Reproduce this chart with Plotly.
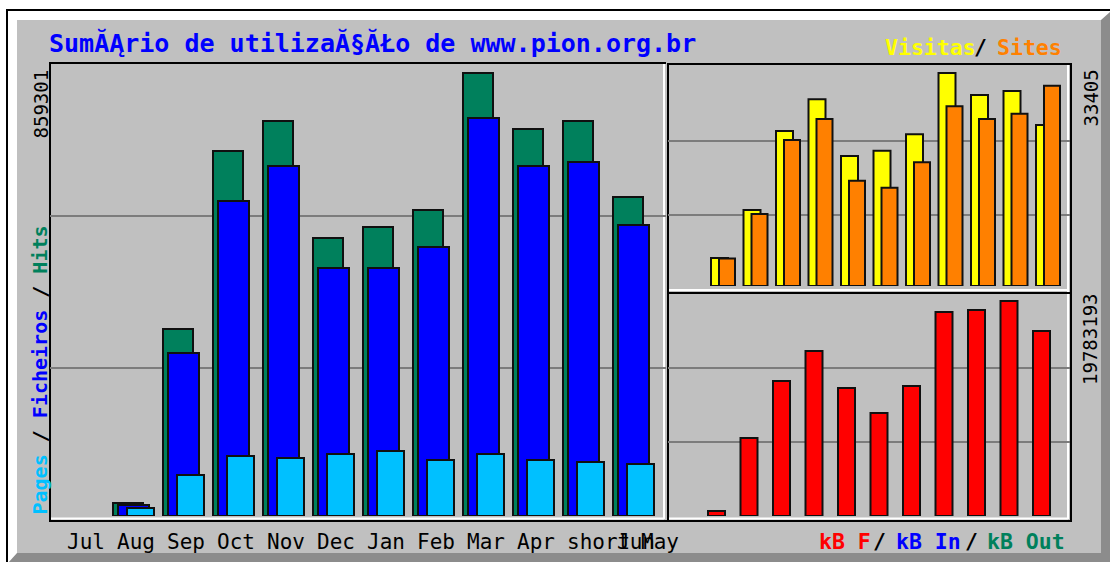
import plotly.graph_objects as go

W, H = 1110, 562

# ---------------- data ----------------
months = ["Jul", "Aug", "Sep", "Oct", "Nov", "Dec", "Jan", "Feb", "Mar", "Apr", "short", "Jun"]
extra_label = "May"
hits = [None, 25200, 362700, 708000, 766200, 539200, 560600, 593600, 859301, 750700, 766200, 618800]
files = [None, 21300, 316200, 611000, 678900, 481000, 481000, 521800, 772000, 678900, 686700, 564500]
pages = [None, 15500, 79500, 116400, 112500, 120300, 126100, 108600, 120300, 108600, 104700, 100900]
visits = [None, 4390, 11900, 24300, 29300, 20400, 21200, 23800, 33405, 29950, 30600, 25250]
sites = [None, 4300, 11290, 22900, 26200, 16500, 15400, 19400, 28200, 26200, 27000, 31400]
kbytes = [None, 460000, 7177000, 12422000, 15183000, 11778000, 9478000, 11962000,
          18771000, 18955000, 19783193, 17023000]
max_hits = 859301
max_visits = 33405
max_kbytes = 19783193
title = "Sum\u0102\u0104rio de utiliza\u0102\u00a7\u0102\u0141o de www.pion.org.br"

# ---------------- colours ----------------
BG = "#C0C0C0"
C_HITS = "#00805C"
C_FILES = "#0000FF"
C_PAGES = "#00C0FF"
C_VISITS = "#FFFF00"
C_SITES = "#FF8000"
C_KB = "#FF0000"
GRID = "#7c7c7c"
MONO = "DejaVu Sans Mono"

slots = list(range(len(months)))


def X(px):
    return px / W


def Y(py):
    return 1 - py / H


fig = go.Figure()

# ---- left panel: hits / files / pages ----
L0, L1 = 50, 666
SL0, SLW = 63, 50  # first slot pixel, slot spacing
line = dict(color="#101010", width=2)
fig.add_trace(go.Bar(x=slots, y=hits, marker=dict(color=C_HITS, line=line),
                     offset=0, width=30 / SLW, xaxis="x", yaxis="y", name="Hits"))
fig.add_trace(go.Bar(x=slots, y=files, marker=dict(color=C_FILES, line=line),
                     offset=5 / SLW, width=31 / SLW, xaxis="x", yaxis="y", name="Ficheiros"))
fig.add_trace(go.Bar(x=slots, y=pages, marker=dict(color=C_PAGES, line=line),
                     offset=14 / SLW, width=27 / SLW, xaxis="x", yaxis="y", name="Pages"))

# ---- right top: visits / sites ----
R0, R1 = 668, 1070
SR0, SRW = 678.5, 32.5
fig.add_trace(go.Bar(x=slots, y=visits, marker=dict(color=C_VISITS, line=line),
                     offset=0, width=17 / SRW, xaxis="x2", yaxis="y2", name="Visitas"))
fig.add_trace(go.Bar(x=slots, y=sites, marker=dict(color=C_SITES, line=line),
                     offset=8 / SRW, width=16 / SRW, xaxis="x2", yaxis="y2", name="Sites"))

# ---- right bottom: kB F ----
fig.add_trace(go.Bar(x=slots, y=kbytes, marker=dict(color=C_KB, line=line),
                     offset=-3 / SRW, width=17 / SRW, xaxis="x3", yaxis="y3", name="kB F"))

s1 = max_hits / (516 - 73)
s2 = max_visits / (286 - 73)
s3 = max_kbytes / (516 - 301)

ax_common = dict(showticklabels=False, ticks="", zeroline=False, showline=False, fixedrange=True)
fig.update_layout(
    width=W, height=H,
    margin=dict(l=0, r=0, t=0, b=0),
    paper_bgcolor="white",
    plot_bgcolor="rgba(0,0,0,0)",
    barmode="overlay",
    showlegend=False,
    xaxis=dict(domain=[X(L0), X(L1)], range=[(L0 - SL0) / SLW, (L1 - SL0) / SLW],
               showgrid=False, anchor="y", **ax_common),
    yaxis=dict(domain=[Y(516), Y(63)], range=[0, s1 * (516 - 63)], anchor="x",
               tickvals=[s1 * (516 - 368), s1 * (516 - 216)],
               showgrid=True, gridcolor=GRID, gridwidth=2, **ax_common),
    xaxis2=dict(domain=[X(R0), X(R1)], range=[(R0 - SR0) / SRW, (R1 - SR0) / SRW],
                showgrid=False, anchor="y2", **ax_common),
    yaxis2=dict(domain=[Y(286), Y(64)], range=[0, s2 * (286 - 64)], anchor="x2",
                tickvals=[s2 * (286 - 215), s2 * (286 - 141)],
                showgrid=True, gridcolor=GRID, gridwidth=2, **ax_common),
    xaxis3=dict(domain=[X(R0), X(R1)], range=[(R0 - SR0) / SRW, (R1 - SR0) / SRW],
                showgrid=False, anchor="y3", **ax_common),
    yaxis3=dict(domain=[Y(516), Y(293)], range=[0, s3 * (516 - 293)], anchor="x3",
                tickvals=[s3 * (516 - 442), s3 * (516 - 368)],
                showgrid=True, gridcolor=GRID, gridwidth=2, **ax_common),
)

shapes = []
# outer frame, bevel and body
shapes.append(dict(type="rect", xref="paper", yref="paper", x0=X(7), y0=Y(10), x1=X(1116), y1=Y(570),
                   line=dict(color="black", width=2), fillcolor="white", layer="below"))
shapes.append(dict(type="path", xref="paper", yref="paper",
                   path=f"M {X(1111)} {Y(11)} L {X(1111)} {Y(563)} L {X(8)} {Y(563)} L {X(17)} {Y(553)} "
                        f"L {X(1101)} {Y(553)} L {X(1101)} {Y(20)} Z",
                   fillcolor="#8c8c8c", line=dict(width=0), layer="below"))
shapes.append(dict(type="rect", xref="paper", yref="paper", x0=X(17), y0=Y(20), x1=X(1101), y1=Y(553),
                   fillcolor=BG, line=dict(width=0), layer="below"))


def seg(x0, y0, x1, y1, color, w=2):
    shapes.append(dict(type="line", xref="paper", yref="paper", x0=X(x0), y0=Y(y0), x1=X(x1), y1=Y(y1),
                       line=dict(color=color, width=w), layer="below"))


# white highlights
seg(664, 64, 664, 519, "white")
seg(51, 518.5, 664, 518.5, "white")
seg(669, 290, 1068, 290, "white")
seg(1068, 65, 1068, 519, "white")
seg(669, 518.5, 1068, 518.5, "white")
# black frame lines
seg(50, 63, 666, 63, "black")
seg(50, 62, 50, 522, "black")
seg(668, 64, 1071, 64, "black")
seg(668, 63, 668, 522, "black")
seg(668, 293, 1071, 293, "black")
seg(50, 521, 1071, 521, "black")
seg(1071, 63, 1071, 522, "black")
fig.update_layout(shapes=shapes)

ann = []


def label(px, py, text, color, size=21.5, bold=True, anchor="left"):
    t = f"<b>{text}</b>" if bold else text
    ann.append(dict(xref="paper", yref="paper", x=X(px), y=Y(py), xanchor=anchor, yanchor="middle",
                    text=t, showarrow=False, font=dict(family=MONO, size=size, color=color)))


def span(t, c):
    return f"<span style='color:{c}'>{t}</span>"


# title
label(47, 43, title, "#0000FF", size=25)
# top-right legend
label(883, 47, "Visitas", C_VISITS)
label(972, 47, "/", "#000000")
label(995, 47, "Sites", C_SITES)
# bottom-right legend
label(817, 541, "kB F", C_KB)
label(871, 541, "/", "#000000")
label(894, 541, "kB In", C_FILES)
label(963, 541, "/", "#000000")
label(985, 541, "kB Out", C_HITS)

ann.append(dict(xref="paper", yref="paper", x=X(39), y=Y(517), xanchor="center", yanchor="bottom",
                textangle=-90,
                text="<b>" + span("Pages", C_PAGES) + span(" / ", "#000000") + span("Ficheiros", C_FILES)
                     + span(" / ", "#000000") + span("Hits", C_HITS) + "</b>",
                showarrow=False, font=dict(family=MONO, size=20)))
# max value labels
ann.append(dict(xref="paper", yref="paper", x=X(40), y=Y(68), xanchor="center", yanchor="top",
                textangle=-90, text=str(max_hits), showarrow=False,
                font=dict(family=MONO, size=19, color="black")))
ann.append(dict(xref="paper", yref="paper", x=X(1090), y=Y(68), xanchor="center", yanchor="top",
                textangle=-90, text=str(max_visits), showarrow=False,
                font=dict(family=MONO, size=19, color="black")))
ann.append(dict(xref="paper", yref="paper", x=X(1090), y=Y(291), xanchor="center", yanchor="top",
                textangle=-90, text=str(max_kbytes), showarrow=False,
                font=dict(family=MONO, size=19, color="black")))
# month labels
for i, m in zip(slots, months):
    ann.append(dict(xref="x", yref="paper", x=i + 2 / SLW, y=Y(542), xanchor="left", yanchor="middle",
                    text=m, showarrow=False, font=dict(family=MONO, size=21, color="black")))
ann.append(dict(xref="x", yref="paper", x=slots[-1] + 26 / SLW, y=Y(542), xanchor="left", yanchor="middle",
                text=extra_label, showarrow=False, font=dict(family=MONO, size=21, color="black")))
fig.update_layout(annotations=ann)

fig.write_html("out.html", config={"displayModeBar": False},
               post_script="document.body.style.margin='0px';document.body.style.overflow='hidden';")
